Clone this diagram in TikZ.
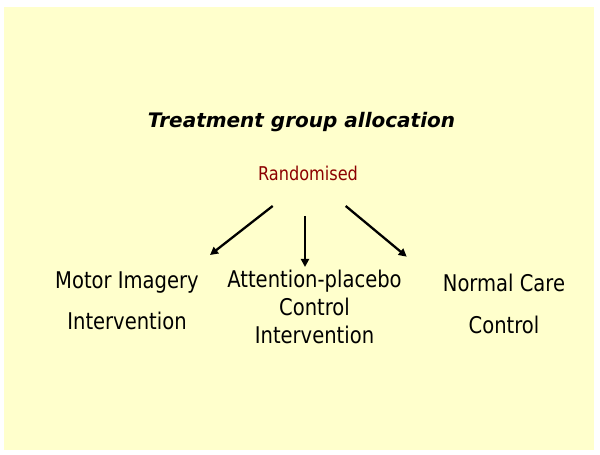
\documentclass[tikz,border=0pt]{standalone}
\usepackage{fontspec}
\setmainfont{DejaVu Sans}[FakeStretch=0.85]
\newfontfamily\headfont{DejaVu Sans}
\usetikzlibrary{arrows.meta}

\definecolor{paper}{HTML}{FFFFCC}
\definecolor{darkred}{HTML}{8C0000}

\tikzset{
	head/.style={anchor=base, inner sep=0pt, font=\headfont\bfseries\itshape\fontsize{20}{24}\selectfont},
	rand/.style={anchor=base, inner sep=0pt, text=darkred, font=\fontsize{19}{23}\selectfont},
	group/.style={align=center, inner sep=0pt, font=\fontsize{23}{#1}\selectfont},
	alloc/.style={-{Triangle[length=8pt, width=8pt]}, line width=2.3pt},
}

\begin{document}
\begin{tikzpicture}[x=1pt, y=1pt]
	\useasboundingbox (0,0) rectangle (600,455);
	\fill[paper] (4,5) rectangle (594,448);

	\node[head] 		(T) at (301.5,327) 	{Treatment group allocation};
	\node[rand] 		(R) at (308,274.3) 	{Randomised};
	\node[group=41] 	(M) at (127,154) 	{Motor Imagery\\Intervention};
	\node[group=28] 	(A) at (314.5,148) 	{Attention-placebo\\Control\\Intervention};
	\node[group=42] 	(N) at (504,151) 	{Normal Care\\Control};

	\coordinate (Rl) at (272.7,249);
	\coordinate (Rc) at (305,239);
	\coordinate (Rr) at (345.7,249);
	\coordinate (Ml) at (210,200);
	\coordinate (Ac) at (305,188);
	\coordinate (Nr) at (406.7,198.3);

	\path[alloc]
	(Rl) edge (Ml)
	(Rc) edge (Ac)
	(Rr) edge (Nr)
;
\end{tikzpicture}
\end{document}
